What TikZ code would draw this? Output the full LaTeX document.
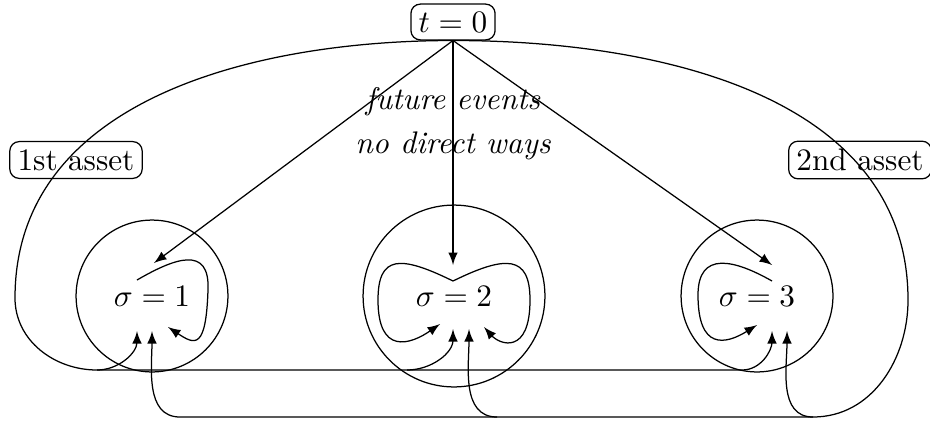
\documentclass[tikz,border=0pt]{standalone}
\usetikzlibrary{arrows}
\begin{document}
\begin{tikzpicture}[x=0.32pt,y=-0.32pt,
  box/.style={draw,rounded corners=3pt,inner sep=2.5pt},
  ring/.style={draw,circle,inner sep=0pt},
  arr/.style={-latex}]
\useasboundingbox (0,0) rectangle (930,421);
% nodes
\node[box] (t0) at (453,22) {$t=0$};
\node[box] (a1) at (76,160) {1st asset};
\node[box] (a2) at (860,160) {2nd asset};
\node[anchor=base] (fe) at (453,109) {\itshape future events};
\node[anchor=base] (nd) at (453,153) {\itshape no direct ways};
\node (s1) at (152,296) {$\sigma=1$};
\node (s2) at (454,296) {$\sigma=2$};
\node (s3) at (757,296) {$\sigma=3$};
\node[ring,minimum size=48.6pt] (c1) at (152,296) {};
\node[ring,minimum size=58.2pt] (c2) at (454,296) {};
\node[ring,minimum size=48.6pt] (c3) at (757,296) {};
% coordinates
\coordinate (L) at (15,298);
\coordinate (LB) at (97,370);
\coordinate (B2) at (407,370);
\coordinate (B3) at (742,370);
\coordinate (R) at (908,300);
\coordinate (RB) at (813,417);
\coordinate (D2) at (497,417);
\coordinate (D1) at (180,417);
\coordinate (s1a) at (137,331);
\coordinate (s1b) at (152,331);
\coordinate (s2a) at (453,329);
\coordinate (s2b) at (469,329);
\coordinate (s3a) at (772,331);
\coordinate (s3b) at (787,331);
\coordinate (s1t) at (154,263);
\coordinate (s2t) at (453,265);
\coordinate (s3t) at (772,265);
\coordinate (l1s) at (137,280);
\coordinate (l1e) at (168,327);
\coordinate (l2s) at (453,281);
\coordinate (l2a) at (440,324);
\coordinate (l2b) at (484,327);
\coordinate (l3s) at (772,281);
\coordinate (l3e) at (757,325);
% straight arrows
\draw[arr] (t0.south) -- (s1t);
\draw[arr] (t0.south) -- (s2t);
\draw[arr] (t0.south) -- (s3t);
% first asset
\draw[arr] (t0.south) to[out=180,in=90] (L) to[out=-90,in=180] (LB) to[out=0,in=-90] (s1a);
\draw[arr] (LB) -- (B2) to[out=0,in=-90] (s2a);
\draw[arr] (B2) -- (B3) to[out=0,in=-90] (s3a);
% second asset
\draw[arr] (t0.south) to[out=0,in=90] (R) to[out=-90,in=0] (RB) to[out=180,in=-90] (s3b);
\draw[arr] (RB) -- (D2) to[out=180,in=-90] (s2b);
\draw[arr] (D2) -- (D1) to[out=180,in=-90] (s1b);
% self loops
\draw[arr] (l1s) .. controls (175,258) and (210,245) .. (208,290) .. controls (206,350) and (195,345) .. (l1e);
\draw[arr] (l2s) .. controls (400,255) and (378,255) .. (378,300) .. controls (378,355) and (410,345) .. (l2a);
\draw[arr] (l2s) .. controls (506,255) and (530,255) .. (530,300) .. controls (530,355) and (500,345) .. (l2b);
\draw[arr] (l3s) .. controls (735,260) and (698,250) .. (698,295) .. controls (698,350) and (725,345) .. (l3e);
\end{tikzpicture}
\end{document}
